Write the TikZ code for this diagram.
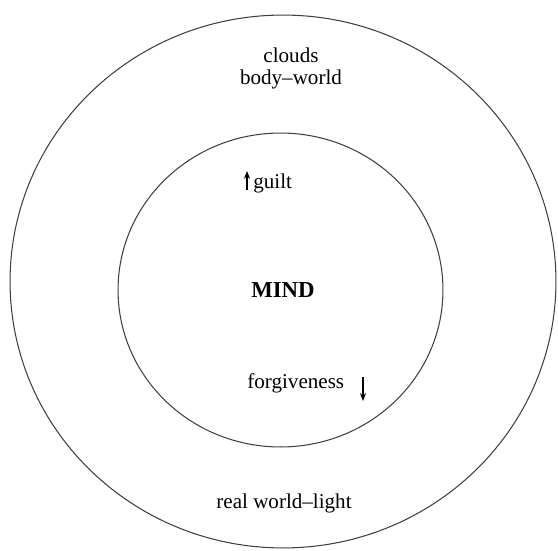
\documentclass[tikz,border=0pt]{standalone}
\usepackage{fontspec}
\setmainfont{Liberation Serif}
\usetikzlibrary{arrows.meta}
\begin{document}
\begin{tikzpicture}[x=0.02cm, y=-0.02cm,
	ring/.style = {draw = black!75, line width = 0.6pt},
	lbl/.style = {inner sep = 0pt, font = \fontsize{12}{14}\selectfont},
	tick/.style = {-{Stealth[length=4.5pt, width=3.5pt]}, line width = 0.7pt}]
	\useasboundingbox (0,0) rectangle (558,551);
	% the two rings
	\draw [ring] (283,281.5) ellipse (5.46cm and 5.33cm);
	\draw [ring] (280.5,290) ellipse (3.25cm and 3.14cm);
	% outer ring
	\node [lbl, anchor = base] (clouds) at (291,62) {clouds};
	\node [lbl, anchor = base] (body) at (291,84) {body--world};
	\node [lbl, anchor = base] (real) at (284,508) {real world--light};
	% inner ring
	\node [lbl, anchor = base west] (guilt) at (253,188) {guilt};
	\node [lbl, anchor = base, font = \fontsize{13}{15}\selectfont\bfseries] (mind) at (283,297) {MIND};
	\node [lbl, anchor = base west] (forgive) at (247,388) {forgiveness};
	% up and down
	\coordinate (up0) at (247,190);
	\coordinate (up1) at (247,171);
	\coordinate (dn0) at (363,377);
	\coordinate (dn1) at (363,401);
	\draw [tick] (up0) -- (up1);
	\draw [tick] (dn0) -- (dn1);
\end{tikzpicture}
\end{document}
